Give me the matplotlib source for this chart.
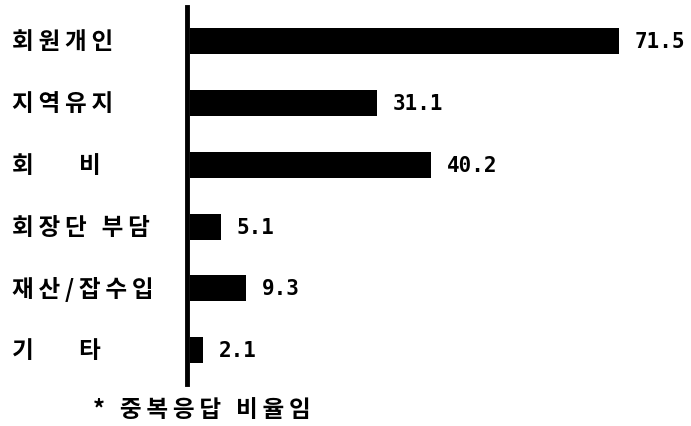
import matplotlib.pyplot as plt
from matplotlib.transforms import blended_transform_factory, offset_copy

plt.rcParams['font.family'] = ['Noto Sans CJK KR', 'DejaVu Sans']

categories = ['회원개인', '지역유지', '회    비', '회장단 부담', '재산/잡수입', '기    타']
values = [71.5, 31.1, 40.2, 5.1, 9.3, 2.1]
value_labels = ['71.5', '31.1', '40.2', '5.1', '9.3', '2.1']
footnote = '* 중복응답 비율임'


def spaced(s, gap='\u2009'):
    # old typewriter look: a thin gap between every character
    return gap.join(s)


fig = plt.figure(figsize=(6.91, 4.27), dpi=100)
ax = fig.add_axes([0.275, 0.098, 0.709, 0.883])

ypos = list(range(len(categories)))
ax.barh(ypos, values, height=0.42, color='black')
ax.set_xlim(0, 81.7)
ax.set_ylim(5.55, -0.55)

for s in ['top', 'right', 'bottom']:
    ax.spines[s].set_visible(False)
ax.spines['left'].set_linewidth(3.5)
ax.spines['left'].set_position(('outward', 2))
ax.set_xticks([])
ax.set_yticks([])

# category labels on the left, value labels after each bar
trans = blended_transform_factory(fig.transFigure, ax.transData)
for y, cat in zip(ypos, categories):
    ax.text(12 / 691, y, spaced(cat), transform=trans, ha='left', va='center',
            fontsize=17, fontweight='bold')

val_trans = offset_copy(ax.transData, fig=fig, x=16, y=0, units='dots')
for y, v, lab in zip(ypos, values, value_labels):
    ax.text(v, y, lab, transform=val_trans, ha='left', va='center',
            fontsize=15, fontweight='bold', family='DejaVu Sans Mono')

fig.text(93 / 691, 1 - 410 / 427, spaced(footnote), ha='left', va='center',
         fontsize=17, fontweight='bold')

fig.savefig('out.png', dpi=100)
